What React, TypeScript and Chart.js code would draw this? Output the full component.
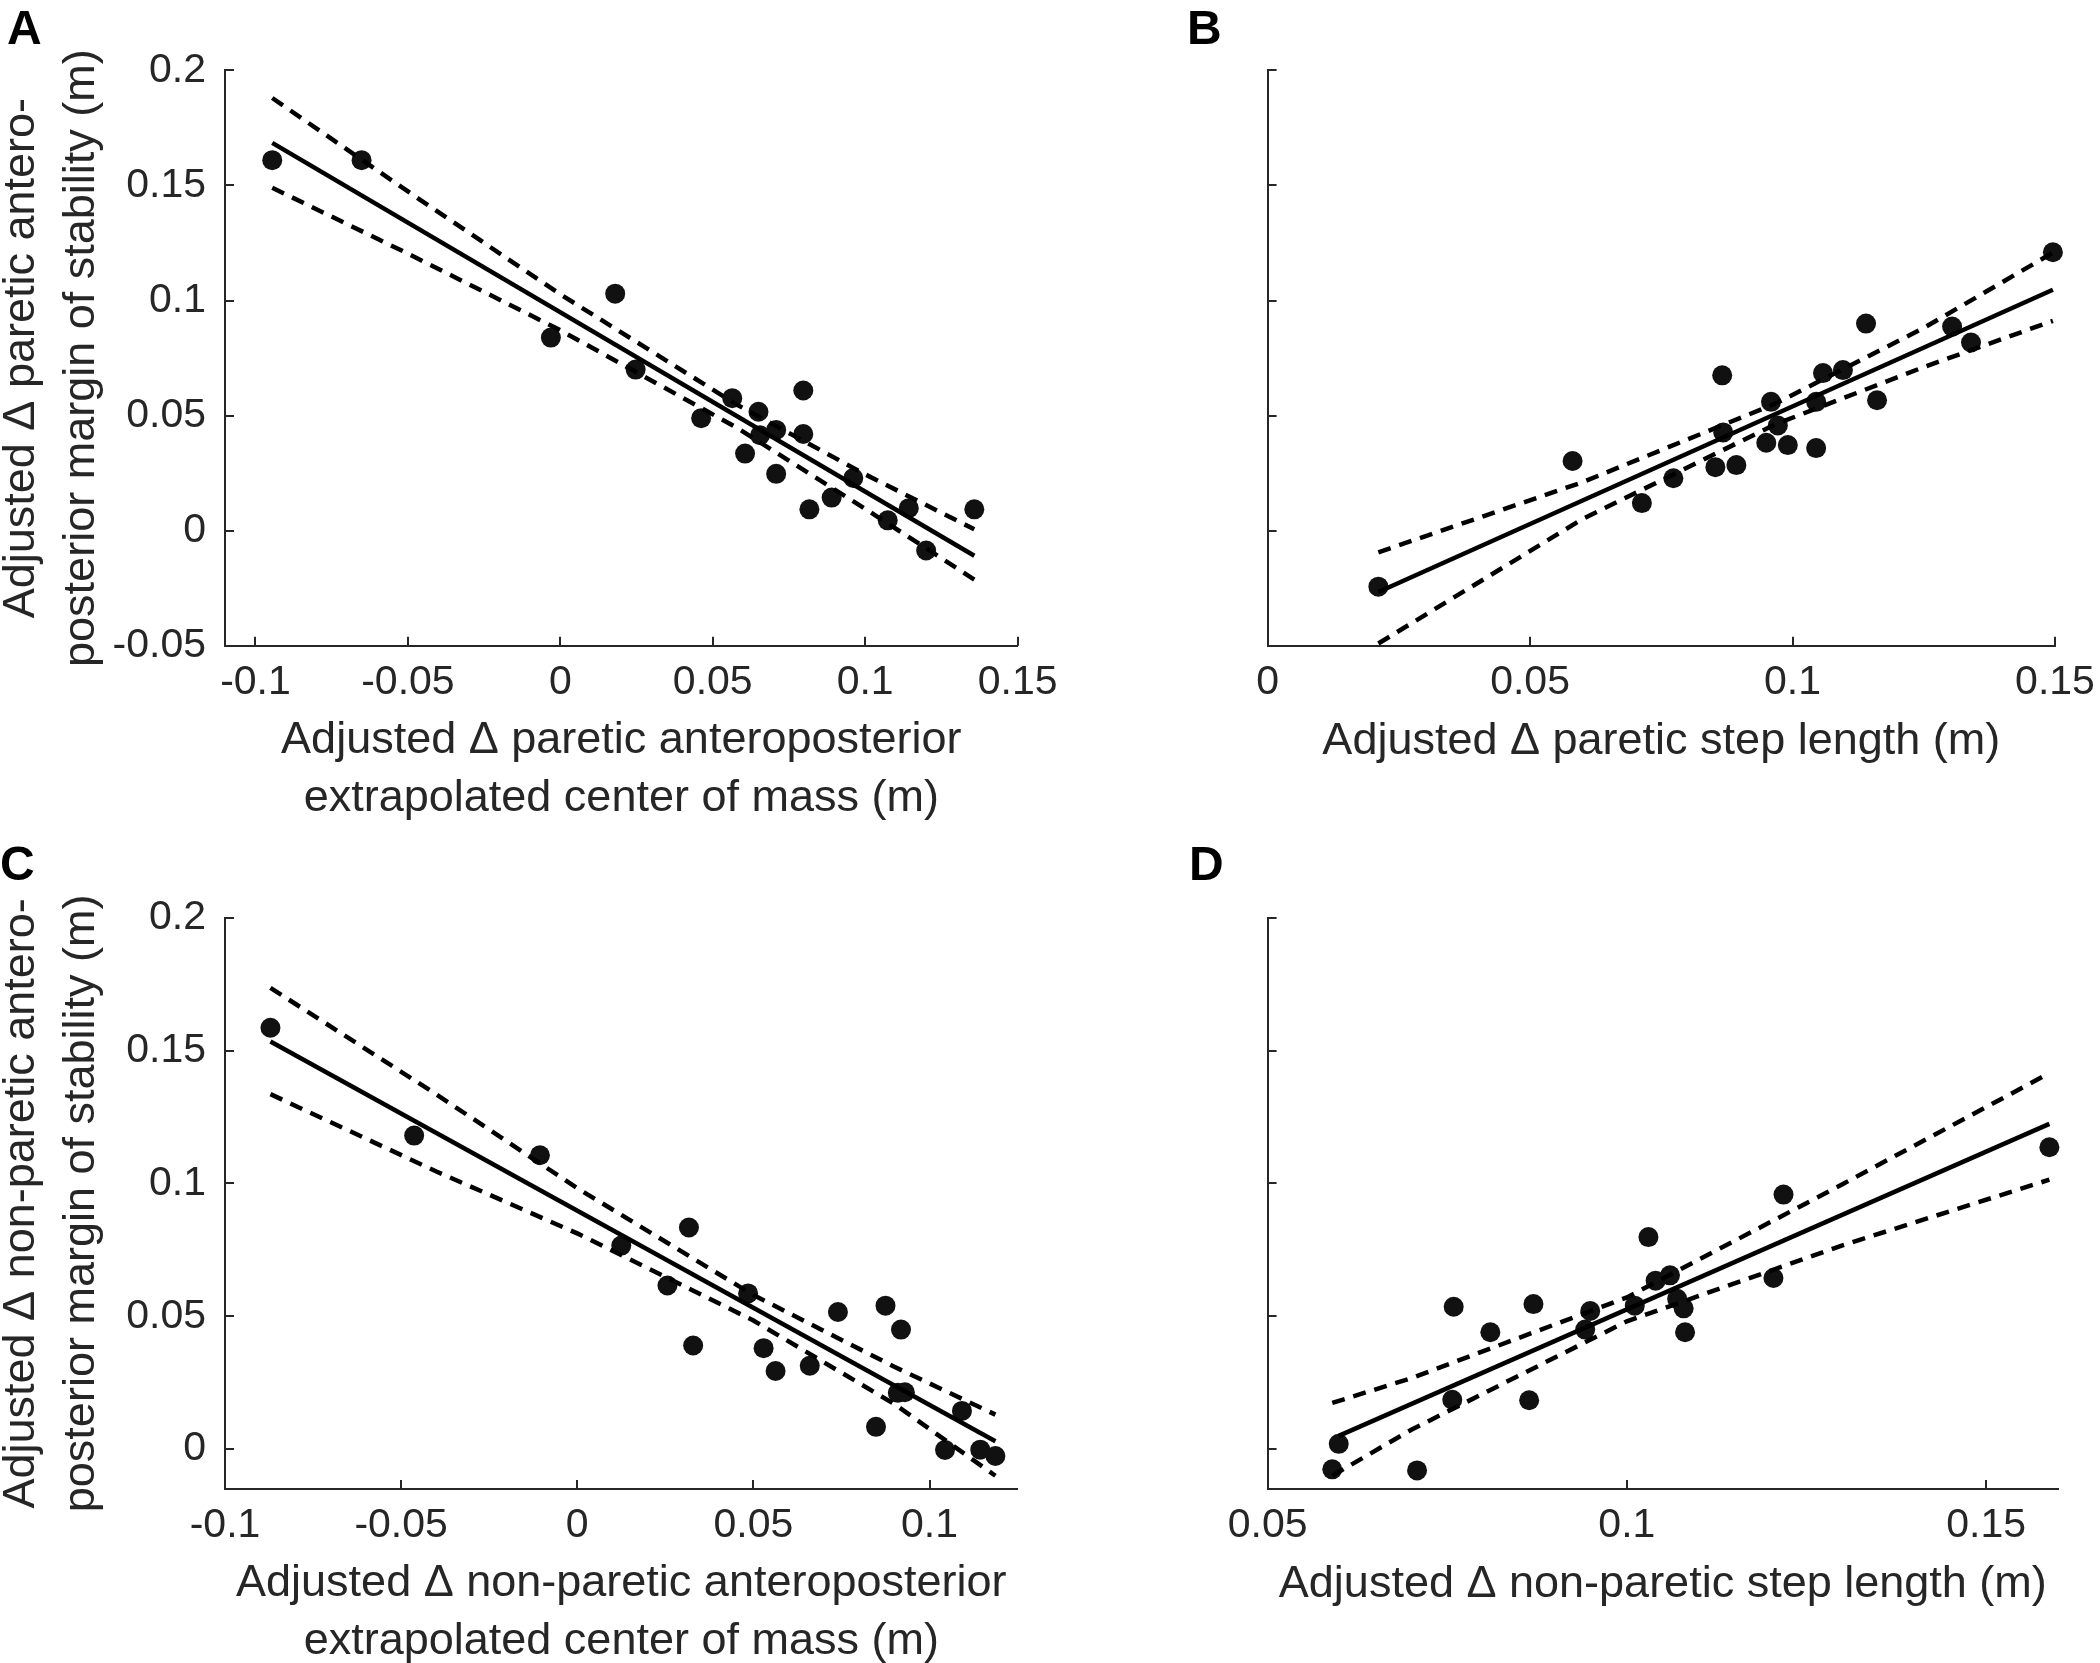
import React, { useEffect, useRef } from "react";
import { Chart, registerables } from "chart.js";

Chart.register(...registerables);

const FONT = '"Liberation Sans", Arial, Helvetica, sans-serif';
const AXIS_COLOR = "#262626";
const MARK_COLOR = "#111111";

// ---------------- Panel A data ----------------
const aX = [-0.0945, -0.0652, 0.018, -0.0031, 0.0247, 0.0462, 0.0564, 0.065, 0.0708, 0.0655, 0.0606, 0.0708, 0.0797, 0.0797, 0.0817, 0.089, 0.0961, 0.1074, 0.1143, 0.12, 0.1358];
const aY = [0.161, 0.161, 0.103, 0.0839, 0.07, 0.0489, 0.0576, 0.0517, 0.0438, 0.0415, 0.0335, 0.0247, 0.0609, 0.042, 0.0093, 0.0144, 0.0229, 0.0045, 0.0098, -0.0086, 0.0093];
const aFitX = [-0.0945, 0.1358];
const aFitY = [0.1685, -0.0109];
const aCiX = [-0.0945, -0.05, 0, 0.058, 0.1, 0.1358];
const aCiUpper = [0.188, 0.1474, 0.1027, 0.0547, 0.0245, 0.0006];
const aCiLower = [0.149, 0.1204, 0.0871, 0.0447, 0.0095, -0.0212];

// ---------------- Panel B data ----------------
const bX = [0.0211, 0.0581, 0.0713, 0.0773, 0.0853, 0.0893, 0.0866, 0.0868, 0.095, 0.0959, 0.0972, 0.0991, 0.1045, 0.1045, 0.1058, 0.1096, 0.1161, 0.114, 0.1304, 0.134, 0.1496];
const bY = [-0.0243, 0.0303, 0.012, 0.0228, 0.0276, 0.0285, 0.0675, 0.0427, 0.0382, 0.056, 0.0457, 0.0372, 0.0359, 0.056, 0.0685, 0.0698, 0.0567, 0.09, 0.0887, 0.0818, 0.121];
const bFitX = [0.0211, 0.1496];
const bFitY = [-0.0266, 0.1047];
const bCiX = [0.0211, 0.06, 0.0967, 0.125, 0.1496];
const bCiUpper = [-0.0094, 0.0211, 0.0552, 0.0881, 0.1208];
const bCiLower = [-0.049, 0.0051, 0.0462, 0.0711, 0.0912];

// ---------------- Panel C data ----------------
const cX = [-0.0871, -0.0463, -0.0106, 0.0125, 0.0256, 0.0317, 0.0329, 0.0485, 0.0529, 0.0563, 0.066, 0.074, 0.0848, 0.0875, 0.0919, 0.091, 0.093, 0.1044, 0.1092, 0.1144, 0.1187];
const cY = [0.1586, 0.118, 0.1106, 0.0766, 0.0616, 0.0834, 0.039, 0.0586, 0.038, 0.0294, 0.0314, 0.0516, 0.0084, 0.054, 0.045, 0.0212, 0.0214, -0.0003, 0.0144, -0.0002, -0.0026];
const cFitX = [-0.0871, 0.1187];
const cFitY = [0.1534, 0.003];
const cCiX = [-0.0871, -0.04, 0, 0.05, 0.09, 0.1187];
const cCiUpper = [0.1736, 0.1335, 0.0982, 0.058, 0.031, 0.013];
const cCiLower = [0.1336, 0.1045, 0.0812, 0.0484, 0.017, -0.01];

// ---------------- Panel D data ----------------
const dX = [0.059, 0.0599, 0.0708, 0.0757, 0.0759, 0.081, 0.0864, 0.087, 0.0942, 0.0949, 0.1011, 0.103, 0.104, 0.106, 0.107, 0.1079, 0.1081, 0.1204, 0.1218, 0.1588];
const dY = [-0.0076, 0.002, -0.008, 0.0186, 0.0536, 0.044, 0.0184, 0.0546, 0.045, 0.052, 0.054, 0.0798, 0.0634, 0.0654, 0.0566, 0.053, 0.044, 0.0644, 0.0958, 0.1136];
const dFitX = [0.0599, 0.1588];
const dFitY = [0.005, 0.1224];
const dCiX = [0.059, 0.07, 0.1, 0.13, 0.1588];
const dCiUpper = [0.0174, 0.0267, 0.0571, 0.0997, 0.1415];
const dCiLower = [-0.01, 0.0073, 0.0481, 0.0767, 0.1014];

// ---------------- Tick values ----------------
const aXTicks = [-0.1, -0.05, 0, 0.05, 0.1, 0.15];
const bXTicks = [0, 0.05, 0.1, 0.15];
const cXTicks = [-0.1, -0.05, 0, 0.05, 0.1];
const dXTicks = [0.05, 0.1, 0.15];
const topYTicks = [-0.05, 0, 0.05, 0.1, 0.15, 0.2];
const bottomYTicks = [0, 0.05, 0.1, 0.15, 0.2];

// ---------------- Axis titles ----------------
const aXTitle = ["Adjusted \u0394 paretic anteroposterior", "extrapolated center of mass (m)"];
const aYTitle = ["Adjusted \u0394 paretic antero-", "posterior margin of stability (m)"];
const bXTitle = ["Adjusted \u0394 paretic step length (m)"];
const cXTitle = ["Adjusted \u0394 non-paretic anteroposterior", "extrapolated center of mass (m)"];
const cYTitle = ["Adjusted \u0394 non-paretic antero-", "posterior margin of stability (m)"];
const dXTitle = ["Adjusted \u0394 non-paretic step length (m)"];

// ---------------- Layout (page pixels) ----------------
const CANVAS_W = 1120;
const CANVAS_H = 880;
const TICK_FONT = 41;
const TITLE_FONT = 45;
const X_TITLE_LH = 58;
const Y_TITLE_LH = 60;
const TICK_LEN = 9;
const LINE_W = 4.5;
const DASH = [13, 9];

type Panel = {
  letter: string;
  letterPos: [number, number];
  xs: number[];
  ys: number[];
  fitX: number[];
  fitY: number[];
  ciX: number[];
  ciUpper: number[];
  ciLower: number[];
  xRange: [number, number];
  yRange: [number, number];
  xTicks: number[];
  yTicks: number[];
  showYLabels: boolean;
  xTitle: string[];
  yTitle: string[] | null;
  canvasLeft: number;
  canvasTop: number;
  area: { l: number; t: number; r: number; b: number };
  xTitleLastLine: number;
};

const panels: Panel[] = [
  {
    letter: "A", letterPos: [7, 4],
    xs: aX, ys: aY, fitX: aFitX, fitY: aFitY, ciX: aCiX, ciUpper: aCiUpper, ciLower: aCiLower,
    xRange: [-0.11, 0.15], yRange: [-0.05, 0.2], xTicks: aXTicks, yTicks: topYTicks,
    showYLabels: true, xTitle: aXTitle, yTitle: aYTitle,
    canvasLeft: -20, canvasTop: 0,
    area: { l: 225, t: 70.4, r: 1017.6, b: 645.8 }, xTitleLastLine: 799,
  },
  {
    letter: "B", letterPos: [1187, 4],
    xs: bX, ys: bY, fitX: bFitX, fitY: bFitY, ciX: bCiX, ciUpper: bCiUpper, ciLower: bCiLower,
    xRange: [0, 0.15], yRange: [-0.05, 0.2], xTicks: bXTicks, yTicks: topYTicks,
    showYLabels: false, xTitle: bXTitle, yTitle: null,
    canvasLeft: 1050, canvasTop: 0,
    area: { l: 1267.6, t: 70.4, r: 2055, b: 645.8 }, xTitleLastLine: 742,
  },
  {
    letter: "C", letterPos: [0, 840],
    xs: cX, ys: cY, fitX: cFitX, fitY: cFitY, ciX: cCiX, ciUpper: cCiUpper, ciLower: cCiLower,
    xRange: [-0.1, 0.125], yRange: [-0.015, 0.2], xTicks: cXTicks, yTicks: bottomYTicks,
    showYLabels: true, xTitle: cXTitle, yTitle: cYTitle,
    canvasLeft: -20, canvasTop: 840,
    area: { l: 225, t: 917.7, r: 1017.6, b: 1489 }, xTitleLastLine: 1642,
  },
  {
    letter: "D", letterPos: [1189, 840],
    xs: dX, ys: dY, fitX: dFitX, fitY: dFitY, ciX: dCiX, ciUpper: dCiUpper, ciLower: dCiLower,
    xRange: [0.05, 0.16], yRange: [-0.015, 0.2], xTicks: dXTicks, yTicks: bottomYTicks,
    showYLabels: false, xTitle: dXTitle, yTitle: null,
    canvasLeft: 1050, canvasTop: 840,
    area: { l: 1267.6, t: 917.7, r: 2058, b: 1489 }, xTitleLastLine: 1585,
  },
];

const fmt = (v: number) => String(parseFloat(Number(v).toFixed(4)));

const inwardTicks = {
  id: "inwardTicks",
  afterDraw(chart: any) {
    const { ctx, chartArea, scales } = chart;
    const xs = scales.x;
    const ys = scales.y;
    ctx.save();
    ctx.strokeStyle = AXIS_COLOR;
    ctx.lineWidth = 2;
    xs.ticks.forEach((t: any) => {
      const p = Math.round(xs.getPixelForValue(t.value));
      ctx.beginPath();
      ctx.moveTo(p, chartArea.bottom);
      ctx.lineTo(p, chartArea.bottom - TICK_LEN);
      ctx.stroke();
    });
    ys.ticks.forEach((t: any) => {
      const p = Math.round(ys.getPixelForValue(t.value));
      ctx.beginPath();
      ctx.moveTo(chartArea.left, p);
      ctx.lineTo(chartArea.left + TICK_LEN, p);
      ctx.stroke();
    });
    ctx.restore();
  },
};

function PanelChart({ panel }: { panel: Panel }) {
  const ref = useRef<HTMLCanvasElement | null>(null);
  useEffect(() => {
    if (!ref.current) return;
    const l = panel.area.l - panel.canvasLeft;
    const t = panel.area.t - panel.canvasTop;
    const r = panel.area.r - panel.canvasLeft;
    const b = panel.area.b - panel.canvasTop;
    const lastLineRel = panel.xTitleLastLine - panel.canvasTop;
    const xTitlePad = CANVAS_H - X_TITLE_LH / 2 - lastLineRel;
    const firstYLineCenter = 22 - panel.canvasLeft;
    const yTitlePad = firstYLineCenter - Y_TITLE_LH / 2;

    const pts = (xv: number[], yv: number[]) => xv.map((x, i) => ({ x, y: yv[i] }));
    const lineDs = (data: any, dash: number[]) => ({
      data,
      showLine: true,
      borderColor: "#000000",
      borderWidth: LINE_W,
      borderDash: dash,
      borderCapStyle: "butt",
      pointRadius: 0,
      pointHoverRadius: 0,
      fill: false,
      tension: 0,
      clip: false,
    });

    const chart = new Chart(ref.current, {
      type: "scatter",
      data: {
        datasets: [
          lineDs(pts(panel.fitX, panel.fitY), []),
          lineDs(pts(panel.ciX, panel.ciUpper), DASH),
          lineDs(pts(panel.ciX, panel.ciLower), DASH),
          {
            data: pts(panel.xs, panel.ys),
            showLine: false,
            pointRadius: 10,
            pointHoverRadius: 10,
            pointBackgroundColor: MARK_COLOR,
            pointBorderWidth: 0,
            pointBorderColor: MARK_COLOR,
            clip: false,
          } as any,
        ] as any,
      },
      options: {
        animation: false,
        responsive: false,
        devicePixelRatio: 1,
        events: [],
        layout: { padding: { left: 0, top: t, right: CANVAS_W - r, bottom: 0 } },
        plugins: { legend: { display: false }, tooltip: { enabled: false }, title: { display: false } },
        scales: {
          x: {
            type: "linear",
            position: "bottom",
            min: panel.xRange[0],
            max: panel.xRange[1],
            afterBuildTicks: (s: any) => { s.ticks = panel.xTicks.map((v) => ({ value: v })); },
            afterFit: (s: any) => { s.height = CANVAS_H - b; },
            grid: { display: true, drawOnChartArea: false, drawTicks: false },
            border: { display: true, color: AXIS_COLOR, width: 2 },
            ticks: {
              display: true,
              autoSkip: false,
              maxRotation: 0,
              minRotation: 0,
              padding: 12,
              color: AXIS_COLOR,
              font: { family: FONT, size: TICK_FONT },
              callback: (v: any) => fmt(v),
            },
            title: {
              display: true,
              text: panel.xTitle,
              color: AXIS_COLOR,
              font: { family: FONT, size: TITLE_FONT, lineHeight: X_TITLE_LH / TITLE_FONT },
              padding: { top: 0, bottom: xTitlePad },
            },
          },
          y: {
            type: "linear",
            position: "left",
            min: panel.yRange[0],
            max: panel.yRange[1],
            afterBuildTicks: (s: any) => { s.ticks = panel.yTicks.map((v) => ({ value: v })); },
            afterFit: (s: any) => { s.width = l; },
            grid: { display: true, drawOnChartArea: false, drawTicks: false },
            border: { display: true, color: AXIS_COLOR, width: 2 },
            ticks: {
              display: panel.showYLabels,
              autoSkip: false,
              padding: 19,
              color: AXIS_COLOR,
              font: { family: FONT, size: TICK_FONT },
              callback: (v: any) => fmt(v),
            },
            title: {
              display: !!panel.yTitle,
              text: panel.yTitle || "",
              color: AXIS_COLOR,
              font: { family: FONT, size: TITLE_FONT, lineHeight: Y_TITLE_LH / TITLE_FONT },
              padding: { top: yTitlePad, bottom: 0 },
            },
          },
        },
      } as any,
      plugins: [inwardTicks],
    });
    return () => chart.destroy();
  }, [panel]);

  return (
    <canvas
      ref={ref}
      width={CANVAS_W}
      height={CANVAS_H}
      style={{ position: "absolute", left: panel.canvasLeft, top: panel.canvasTop, width: CANVAS_W, height: CANVAS_H }}
    />
  );
}

export default function App() {
  return (
    <div
      style={{
        position: "absolute",
        left: 0,
        top: 0,
        width: 2100,
        height: 1663,
        overflow: "hidden",
        background: "#ffffff",
      }}
    >
      {panels.map((p) => (
        <PanelChart key={p.letter} panel={p} />
      ))}
      {panels.map((p) => (
        <div
          key={"lbl" + p.letter}
          style={{
            position: "absolute",
            left: p.letterPos[0],
            top: p.letterPos[1],
            fontFamily: FONT,
            fontWeight: "bold",
            fontSize: 48,
            lineHeight: 1,
            color: "#000000",
          }}
        >
          {p.letter}
        </div>
      ))}
    </div>
  );
}
